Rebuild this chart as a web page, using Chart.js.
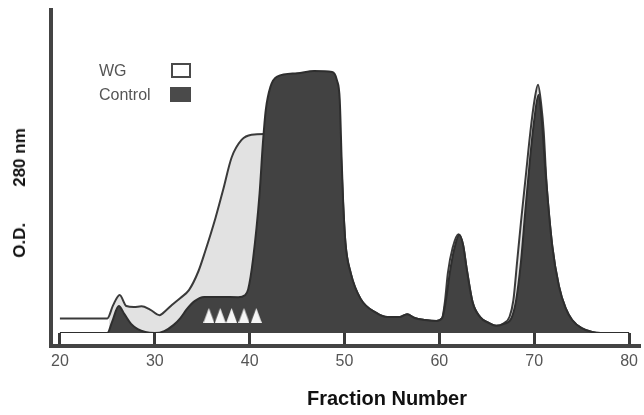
<!DOCTYPE html>
<html lang="en">
<head>
<meta charset="UTF-8">
<title>O.D. 280 nm - Fraction Number</title>
<script src="https://cdn.jsdelivr.net/npm/chart.js"></script>
<style>
  body { margin: 0; background: #fff; }
  #wrap {
    position: relative;
    width: 644px;
    height: 415px;
    font-family: 'Liberation Sans', Arial, sans-serif;
  }
  #chart { position: absolute; left: 0; top: 0; }
  .label { position: absolute; white-space: pre; color: #555; font-size: 16px; line-height: 16px; }
  .box { position: absolute; box-sizing: border-box; border: 2px solid #4a4a4a; }
  .title {
    position: absolute;
    white-space: pre;
    color: #111;
    font-family: 'Liberation Sans Narrow', 'Liberation Sans', Arial, sans-serif;
    font-weight: bold;
  }
  #xTitle { left: 387px; top: 398px; font-size: 20px; transform: translate(-50%, -50%); }
  #yTitle { left: 20px; top: 193px; font-size: 17px; transform: translate(-50%, -50%) rotate(-90deg); }
</style>
</head>
<body>
<div id="wrap">
  <canvas id="chart" width="644" height="415"></canvas>

  <div class="label" style="left:99px; top:63px;">WG</div>
  <div class="box" style="left:171px; top:63px; width:20px; height:15px; background:#fff;"></div>
  <div class="label" style="left:99px; top:87px;">Control</div>
  <div class="box" style="left:170px; top:87px; width:21px; height:15px; background:#4a4a4a;"></div>

  <div class="title" id="yTitle">O.D.<span style="display:inline-block; width:36px;"></span>280 nm</div>
  <div class="title" id="xTitle">Fraction Number</div>
</div>

<script>
    // Valores (O.D. en unidades relativas, 0-100)
    const xTicks = [20, 30, 40, 50, 60, 70, 80];

    const controlFraction = [20, 25.0, 25.5, 26.2, 26.8, 27.5, 28.2, 29.0, 30.0, 31.0, 32.0, 32.7, 33.4, 34.2, 35.2, 37.0, 38.8,
        39.5, 39.85, 40.35, 41.05, 41.4, 41.7, 42.2, 42.9, 45.0, 46.8, 48.7, 49.2, 49.5, 49.7, 49.85, 50.1, 50.65, 51.7,
        53.4, 54.5, 55.8, 56.6, 57.4, 58.5, 59.7, 60.3, 60.7, 61.1, 61.6, 62.1, 62.5, 62.9, 63.5, 64.3, 65.2, 66.0, 66.8,
        67.6, 68.1, 68.6, 69.1, 69.6, 70.0, 70.45, 70.8, 71.2, 71.9, 72.6, 73.3, 74.0, 75.0, 76.1, 77.0, 80];
    const controlOD = [0, 0, 3.4, 8.3, 5.8, 2.8, 1.2, 0.3, 0, 0.6, 2.5, 4.6, 7.4, 9.8, 11.1, 11.1, 11.0,
        11.6, 13.5, 22.5, 43.0, 58.5, 68.6, 75.8, 78.9, 79.9, 80.6, 80.3, 77.8, 71.7, 53.2, 40.9, 27.7, 18.5, 10.5,
        6.1, 4.9, 4.9, 5.8, 4.6, 4.0, 3.7, 4.6, 10.2, 18.5, 26.2, 30.2, 27.1, 19.4, 9.5, 4.9, 3.1, 2.2, 2.8,
        4.6, 10.2, 21.8, 38.8, 54.8, 65.5, 73.2, 65.5, 49.2, 26.8, 14.5, 7.7, 4.0, 1.5, 0.3, 0, 0];

    const wgFraction = [20, 25.0, 25.6, 26.3, 27.0, 27.8, 28.6, 29.5, 30.5, 31.2, 31.8, 32.7, 33.6, 34.6, 35.3, 36.4, 37.2,
        38.1, 39.15, 40.2, 41.6, 42.5, 48.8, 49.5, 49.7, 49.85, 50.1, 50.65, 51.7, 53.4, 54.5, 55.8, 56.6, 57.4, 58.5,
        59.7, 60.3, 60.6, 60.9, 61.4, 62.0, 62.5, 62.9, 63.5, 64.3, 65.2, 66.0, 66.8, 67.4, 67.8, 68.2, 68.6, 69.1,
        69.6, 70.05, 70.4, 70.75, 71.0, 71.3, 71.9, 72.6, 73.3, 74.0, 75.0, 76.1, 77.0, 80];
    const wgOD = [4.5, 4.5, 8.5, 11.7, 8.3, 8.0, 8.2, 7.2, 5.5, 7.0, 8.6, 10.8, 13.2, 19.0, 25.0, 35.4, 44.0,
        54.0, 59.4, 61.0, 61.2, 61.0, 61.0, 60.0, 50.0, 40.0, 27.7, 18.5, 10.5, 6.1, 4.9, 4.9, 5.8, 4.6, 4.0,
        3.7, 4.6, 10.0, 18.5, 26.2, 30.4, 27.1, 19.4, 9.5, 4.9, 3.1, 2.2, 3.0, 5.0, 10.0, 22.0, 34.0, 48.0,
        62.0, 72.0, 76.4, 70.0, 62.0, 46.0, 26.8, 14.5, 7.7, 4.0, 1.5, 0.3, 0, 0];

    // Triangulos blancos bajo el hombro del pico principal
    const markerFraction = [35.7, 36.9, 38.1, 39.4, 40.7];
    const markerOD = [5.4, 5.4, 5.4, 5.4, 5.4];

    const toPoints = (xs, ys) => xs.map((x, i) => ({ x: x, y: ys[i] }));

    const wgFill = '#e2e2e2';

    // Triangulo alto y estrecho para los marcadores
    function makeTriangle(w, h) {
        const c = document.createElement('canvas');
        c.width = w;
        c.height = h;
        const t = c.getContext('2d');
        t.fillStyle = '#f6f6f6';
        t.beginPath();
        t.moveTo(w / 2, 0);
        t.lineTo(w, h);
        t.lineTo(0, h);
        t.closePath();
        t.fill();
        return c;
    }

    // Marco: eje vertical y linea gruesa inferior
    const framePlugin = {
        id: 'frame',
        afterDraw(chart) {
            const { ctx, chartArea } = chart;
            const yLine = chartArea.bottom + 13;
            ctx.save();
            ctx.strokeStyle = '#444';
            ctx.lineWidth = 4;
            ctx.beginPath();
            ctx.moveTo(chartArea.left - 1, chartArea.top);
            ctx.lineTo(chartArea.left - 1, yLine + 2);
            ctx.moveTo(chartArea.left - 3, yLine);
            ctx.lineTo(chart.width - 3, yLine);
            ctx.stroke();
            ctx.restore();
        }
    };

    new Chart(document.getElementById('chart'), {
        type: 'line',
        data: {
            datasets: [
                {
                    label: 'markers',
                    data: toPoints(markerFraction, markerOD),
                    showLine: false,
                    pointStyle: makeTriangle(11, 15),
                    order: 0
                },
                {
                    label: 'Control',
                    data: toPoints(controlFraction, controlOD),
                    borderColor: '#2e2e2e',
                    borderWidth: 2,
                    backgroundColor: '#424242',
                    fill: 'origin',
                    pointRadius: 0,
                    cubicInterpolationMode: 'monotone',
                    order: 1
                },
                {
                    label: 'WG',
                    data: toPoints(wgFraction, wgOD),
                    borderColor: '#3a3a3a',
                    borderWidth: 2,
                    backgroundColor(context) {
                        const { chart } = context;
                        const { chartArea, scales } = chart;
                        if (!chartArea) return wgFill;
                        const x0 = scales.x.getPixelForValue(25.2);
                        const s = (x0 - chartArea.left) / (chartArea.right - chartArea.left);
                        const g = chart.ctx.createLinearGradient(chartArea.left, 0, chartArea.right, 0);
                        g.addColorStop(0, '#fff');
                        g.addColorStop(s, '#fff');
                        g.addColorStop(s, wgFill);
                        g.addColorStop(1, wgFill);
                        return g;
                    },
                    fill: 'origin',
                    pointRadius: 0,
                    cubicInterpolationMode: 'monotone',
                    order: 2
                }
            ]
        },
        options: {
            responsive: false,
            animation: false,
            layout: { padding: { top: 8, right: 6, bottom: 42, left: 0 } },
            plugins: {
                legend: { display: false },
                tooltip: { enabled: false }
            },
            scales: {
                x: {
                    type: 'linear',
                    min: 19.165,
                    max: 80.313,
                    afterBuildTicks: (scale) => { scale.ticks = xTicks.map(v => ({ value: v })); },
                    afterFit: (scale) => { scale.height = 40; },
                    grid: {
                        drawOnChartArea: false,
                        drawTicks: true,
                        tickLength: 13,
                        color: '#3a3a3a',
                        lineWidth: 3
                    },
                    border: { display: false },
                    ticks: {
                        color: '#555',
                        padding: 6,
                        maxRotation: 0,
                        font: { family: "'Liberation Sans', Arial, sans-serif", size: 16 }
                    }
                },
                y: {
                    min: 0,
                    max: 100,
                    afterFit: (scale) => { scale.width = 52; },
                    ticks: { display: false },
                    grid: { display: false },
                    border: { display: false }
                }
            }
        },
        plugins: [framePlugin]
    });
</script>
</body>
</html>
